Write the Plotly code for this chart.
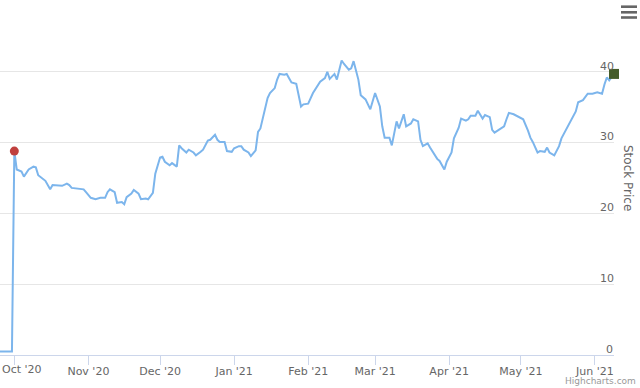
import plotly.graph_objects as go

# ---------------- data ----------------
dates = [
    "2020-09-25", "2020-09-30",
    "2020-10-01", "2020-10-02", "2020-10-04", "2020-10-05", "2020-10-07", "2020-10-09", "2020-10-10",
    "2020-10-11", "2020-10-14", "2020-10-16", "2020-10-17", "2020-10-19", "2020-10-21", "2020-10-23",
    "2020-10-24", "2020-10-25", "2020-10-28", "2020-10-30", "2020-10-31",
    "2020-11-02", "2020-11-04", "2020-11-06", "2020-11-08", "2020-11-09", "2020-11-10", "2020-11-12",
    "2020-11-13", "2020-11-15", "2020-11-16", "2020-11-17", "2020-11-19", "2020-11-20", "2020-11-22",
    "2020-11-23", "2020-11-25", "2020-11-26", "2020-11-28", "2020-11-29",
    "2020-12-01", "2020-12-02", "2020-12-03", "2020-12-05", "2020-12-06", "2020-12-08", "2020-12-09",
    "2020-12-10", "2020-12-12", "2020-12-13", "2020-12-15", "2020-12-16", "2020-12-18", "2020-12-19",
    "2020-12-21", "2020-12-22", "2020-12-24", "2020-12-25", "2020-12-26", "2020-12-28", "2020-12-29",
    "2020-12-31",
    "2021-01-01", "2021-01-03", "2021-01-04", "2021-01-05", "2021-01-07", "2021-01-08", "2021-01-10",
    "2021-01-11", "2021-01-12", "2021-01-14", "2021-01-15", "2021-01-16", "2021-01-18", "2021-01-19",
    "2021-01-20", "2021-01-22", "2021-01-23", "2021-01-24", "2021-01-25", "2021-01-27", "2021-01-29",
    "2021-01-30",
    "2021-02-01", "2021-02-03", "2021-02-05", "2021-02-06", "2021-02-08", "2021-02-09", "2021-02-10",
    "2021-02-12", "2021-02-13", "2021-02-15", "2021-02-16", "2021-02-18", "2021-02-19", "2021-02-20",
    "2021-02-22", "2021-02-23", "2021-02-25", "2021-02-26", "2021-02-27",
    "2021-03-01", "2021-03-03", "2021-03-04", "2021-03-05", "2021-03-07", "2021-03-08", "2021-03-10",
    "2021-03-11", "2021-03-13", "2021-03-14", "2021-03-16", "2021-03-17", "2021-03-19", "2021-03-20",
    "2021-03-21", "2021-03-23", "2021-03-24", "2021-03-26", "2021-03-27", "2021-03-28", "2021-03-30",
    "2021-03-31",
    "2021-04-02", "2021-04-03", "2021-04-05", "2021-04-06", "2021-04-08", "2021-04-09", "2021-04-10",
    "2021-04-12", "2021-04-13", "2021-04-15", "2021-04-16", "2021-04-18", "2021-04-19", "2021-04-20",
    "2021-04-22", "2021-04-24", "2021-04-25", "2021-04-26", "2021-04-28", "2021-04-30",
    "2021-05-02", "2021-05-04", "2021-05-05", "2021-05-06", "2021-05-08", "2021-05-09", "2021-05-11",
    "2021-05-12", "2021-05-13", "2021-05-15", "2021-05-17", "2021-05-18", "2021-05-20", "2021-05-22",
    "2021-05-24", "2021-05-25", "2021-05-27", "2021-05-29", "2021-05-31",
    "2021-06-02", "2021-06-04", "2021-06-05", "2021-06-06", "2021-06-07", "2021-06-09",
]
prices = [
    0.5, 0.5,
    28.8, 26.2, 25.9, 25.2, 26.2, 26.6, 26.5, 25.4, 24.6, 23.4, 24.0, 24.0, 23.9, 24.2, 24.0, 23.6,
    23.5, 23.4, 23.0,
    22.2, 22.0, 22.2, 22.2, 23.0, 23.4, 23.0, 21.5, 21.6, 21.3, 22.3, 22.8, 23.3, 22.8, 22.0, 22.1,
    22.0, 22.9, 25.6,
    27.9, 28.0, 27.3, 26.8, 27.1, 26.6, 29.6, 29.2, 28.6, 29.0, 28.6, 28.2, 28.7, 29.0, 30.3, 30.4,
    31.1, 30.4, 30.1, 30.1, 28.8, 28.7,
    29.2, 29.5, 29.5, 29.0, 28.6, 28.1, 28.9, 31.5, 32.0, 34.6, 36.3, 37.0, 37.7, 38.9, 39.7, 39.6,
    39.7, 39.1, 38.5, 38.3, 35.1, 35.4,
    35.5, 37.0, 38.2, 38.6, 39.1, 40.0, 39.0, 39.7, 38.9, 41.6, 41.1, 40.3, 40.5, 41.5, 38.9, 36.7,
    36.1, 35.3, 34.7,
    37.0, 35.1, 32.3, 30.7, 30.7, 29.6, 33.0, 32.0, 34.0, 32.3, 32.7, 33.3, 33.0, 30.4, 29.5, 29.9,
    29.3, 28.2, 27.7, 27.4, 26.2, 27.3,
    28.6, 30.6, 32.1, 33.4, 33.1, 33.3, 33.8, 33.8, 34.5, 33.4, 33.9, 33.6, 31.8, 31.4, 31.8, 32.3,
    33.3, 34.2, 34.0, 33.7,
    33.3, 31.7, 30.7, 30.1, 28.6, 28.8, 28.7, 29.3, 28.6, 28.2, 29.5, 30.6, 31.9, 33.0, 34.4, 35.7,
    36.0, 36.9, 36.9,
    37.1, 36.9, 38.2, 39.2, 38.8, 39.7,
]
start_date, start_price = "2020-10-01", 28.8
end_date, end_price = "2021-06-09", 39.7

month_ticks = ["2020-10-01", "2020-11-01", "2020-12-01", "2021-01-01", "2021-02-01",
               "2021-03-01", "2021-04-01", "2021-05-01", "2021-06-01"]
month_labels = ["Oct '20", "Nov '20", "Dec '20", "Jan '21", "Feb '21",
                "Mar '21", "Apr '21", "May '21", "Jun '21"]
y_ticks = [0, 10, 20, 30, 40, 50]
y_labels = ["0", "10", "20", "30", "40", ""]

# ---------------- layout helpers ----------------
W, H = 640, 388
ML, MR, MT, MB = 0, 26, 1, 33
PW, PH = W - ML - MR, H - MT - MB


def px(x):
    return (x - ML) / PW


def py(y):
    return (H - MB - y) / PH


FONT = "DejaVu Sans, Verdana, sans-serif"

fig = go.Figure()
fig.add_trace(go.Scatter(
    x=dates, y=prices, mode="lines",
    line=dict(color="#7cb5ec", width=2),
    hoverinfo="skip", showlegend=False, cliponaxis=False,
))
fig.add_trace(go.Scatter(
    x=[start_date], y=[start_price], mode="markers",
    marker=dict(symbol="circle", size=9, color="#c0403e", line=dict(width=0)),
    showlegend=False, hoverinfo="skip",
))
fig.add_trace(go.Scatter(
    x=[end_date], y=[end_price], mode="markers",
    marker=dict(symbol="square", size=10, color="#445c2a", line=dict(width=0)),
    showlegend=False, hoverinfo="skip", cliponaxis=False,
))

shapes = []
for yc in (6.7, 12.3, 17.5):
    shapes.append(dict(type="rect", xref="paper", yref="paper",
                       x0=px(621), x1=px(637), y0=py(yc + 1.3), y1=py(yc - 1.3),
                       fillcolor="#666666", line=dict(width=0), layer="above"))

# The first month label is pushed inside the chart (as Highcharts does),
# so it is drawn as an annotation anchored to its left edge.
tick_text_axis = [""] + month_labels[1:]
# The bottom y label sits at the plot edge, where Plotly would hide it;
# it is drawn as an annotation instead.
y_text_axis = [""] + y_labels[1:]

fig.update_layout(
    width=W, height=H,
    margin=dict(l=ML, r=MR, t=MT, b=MB, pad=0, autoexpand=False),
    paper_bgcolor="white", plot_bgcolor="white",
    font=dict(family=FONT, size=11, color="#666666"),
    showlegend=False,
    xaxis=dict(
        type="date",
        range=["2020-09-25", "2021-06-09"],
        tickmode="array", tickvals=month_ticks, ticktext=tick_text_axis,
        ticks="outside", ticklen=9, tickwidth=1, tickcolor="#ccd6eb",
        showline=True, linecolor="#ccd6eb", linewidth=1,
        showgrid=False, zeroline=False, automargin=False,
        ticklabelstandoff=-3,
        tickfont=dict(family=FONT, size=11, color="#666666"),
        fixedrange=True,
    ),
    yaxis=dict(
        side="right",
        range=[0, 50],
        tickmode="array", tickvals=y_ticks, ticktext=y_text_axis,
        ticks="", showline=False, zeroline=False, automargin=False,
        showgrid=True, gridcolor="#e6e6e6", gridwidth=1,
        ticklabelposition="inside",
        ticklabelshift=-6,
        ticklabelstandoff=-3,
        tickfont=dict(family=FONT, size=11, color="#666666"),
        fixedrange=True,
    ),
    shapes=shapes,
    annotations=[
        dict(text=month_labels[0], xref="paper", yref="paper", x=px(0), y=py(370),
             showarrow=False, xanchor="left", yanchor="middle",
             font=dict(family=FONT, size=11, color="#666666")),
        dict(text=y_labels[0], xref="paper", y=y_ticks[0], yref="y", yshift=6,
             x=px(615), showarrow=False, xanchor="right", yanchor="middle",
             font=dict(family=FONT, size=11, color="#666666")),
        dict(text="Stock Price", xref="paper", yref="paper", x=px(628), y=py(178),
             showarrow=False, textangle=90, xanchor="center", yanchor="middle",
             font=dict(family=FONT, size=12, color="#666666")),
        dict(text="Highcharts.com", xref="paper", yref="paper", x=px(638), y=py(381),
             showarrow=False, xanchor="right", yanchor="middle",
             font=dict(family=FONT, size=9, color="#999999")),
    ],
)

fig.write_html(
    "out.html",
    config={"displayModeBar": False},
    post_script="document.body.style.margin='0px';document.body.style.overflow='hidden';",
)
